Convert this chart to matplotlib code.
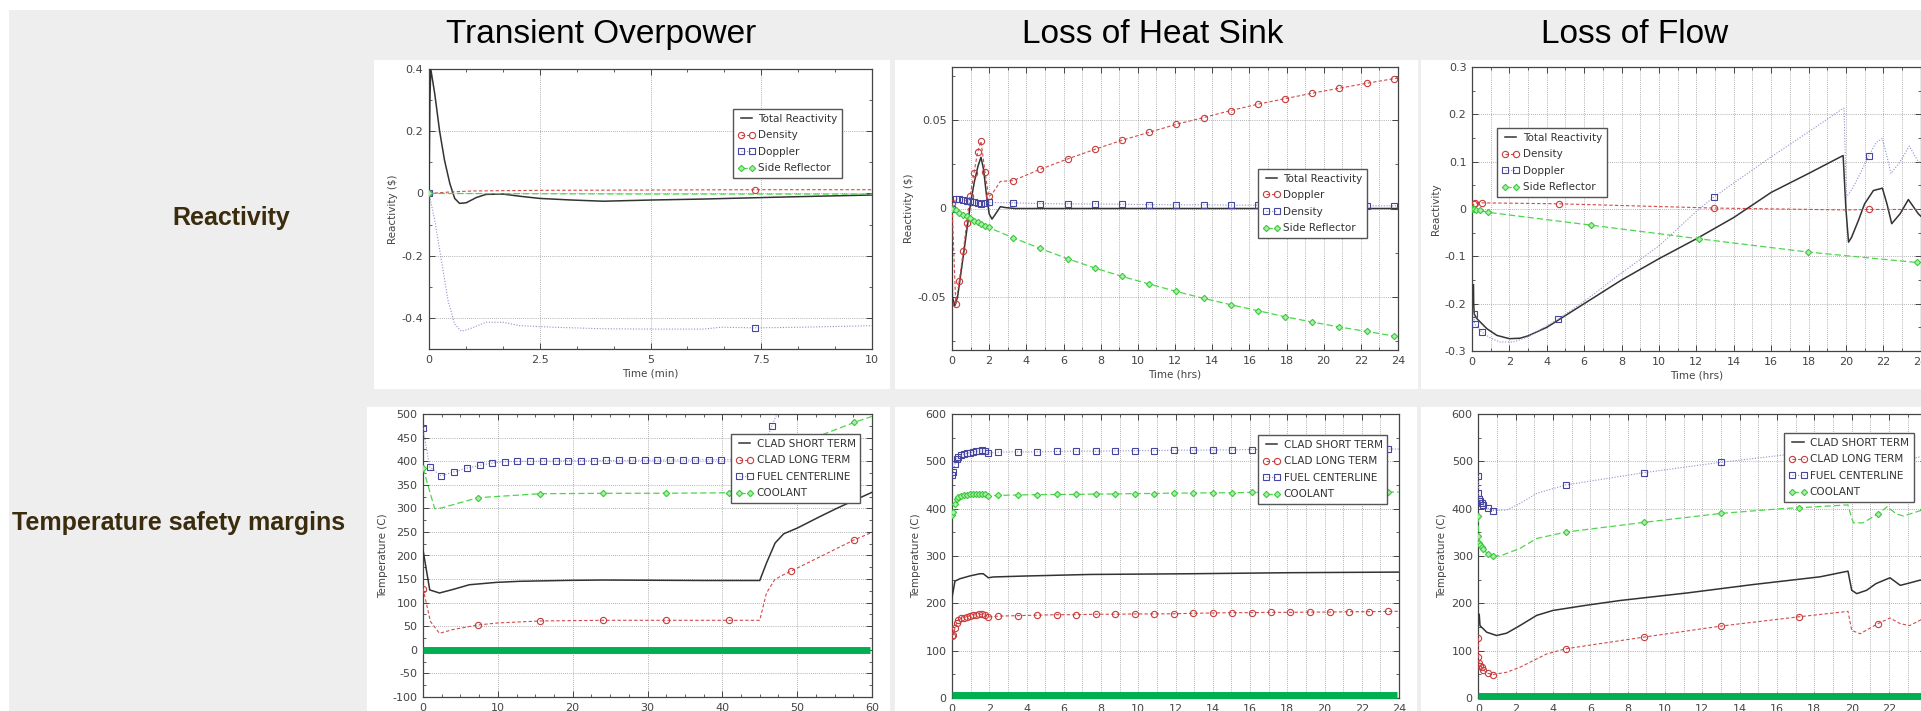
"""Safety transient summary slide: reactivity and temperature margins."""

import matplotlib

matplotlib.use("Agg")
import matplotlib.pyplot as plt
from matplotlib.lines import Line2D
from matplotlib.patches import Rectangle
from matplotlib.ticker import FuncFormatter, MultipleLocator

W, H = 1921, 711
plt.rcParams["font.family"] = ["DejaVu Sans"]
plt.rcParams["axes.unicode_minus"] = False

# ---------------------------------------------------------------- data
columns = ["Transient Overpower", "Loss of Heat Sink", "Loss of Flow"]
rows = ["Reactivity", "Temperature safety margins"]
limit_level = [0, 6, 5]  # green margin bar (C), one per column

# Transient overpower, reactivity ($) vs time (min)
top_total_t = [0, 0.02, 0.04, 0.13, 0.24, 0.35, 0.47, 0.58, 0.69, 0.84, 1.07, 1.29, 1.67,
               2.05, 2.5, 3.2, 3.93, 5.06, 6.19, 7.3, 8.44, 10]
top_total_v = [0, 0.30, 0.40, 0.32, 0.20, 0.107, 0.032, -0.016, -0.032, -0.03, -0.013, -0.003,
               -0.002, -0.009, -0.016, -0.021, -0.025, -0.021, -0.018, -0.014, -0.010, -0.005]
top_density_t = [0.5, 1, 2.5, 5, 10]
top_density_v = [0.005, 0.008, 0.010, 0.011, 0.012]
top_density_mt = [0, 7.37]
top_density_mv = [0, 0.012]
top_doppler_t = [0.13, 0.28, 0.43, 0.58, 0.73, 0.92, 1.29, 1.67, 2.05, 2.8, 3.93, 5.06, 6.19,
                 6.6, 8.44, 10]
top_doppler_v = [-0.086, -0.215, -0.344, -0.42, -0.443, -0.435, -0.414, -0.414, -0.425, -0.43,
                 -0.435, -0.436, -0.436, -0.43, -0.43, -0.425]
top_doppler_mt = [0, 7.37]
top_doppler_mv = [0, -0.432]
top_side_t = [2.5, 5, 7.37, 10]
top_side_v = [-0.001, -0.002, -0.002, -0.002]
top_side_mt = [0]
top_side_mv = [0]

# Loss of heat sink, reactivity ($) vs time (hrs)
lohs_total_t = [0, 0.02, 0.15, 0.3, 0.5, 0.8, 1.0, 1.2, 1.4, 1.56, 1.7, 1.85, 2.0, 2.15, 2.35,
                2.6, 2.9, 3.4, 24]
lohs_total_v = [-0.02, -0.05, -0.055, -0.05, -0.035, -0.012, 0.003, 0.015, 0.024, 0.029,
                0.022, 0.008, -0.003, -0.006, -0.003, 0.001, 0.0005, 0, 0]
lohs_mark_t = [0, 0.2, 0.39, 0.61, 0.79, 0.97, 1.18, 1.38, 1.56, 1.78, 1.97, 3.3, 4.75, 6.22,
               7.7, 9.15, 10.62, 12.07, 13.54, 15.0, 16.47, 17.92, 19.39, 20.84, 22.31, 23.78]
lohs_doppler_t = [2.15, 2.6, 24]
lohs_doppler_v = [0.008, 0.0153, 0.0738]
lohs_doppler_mv = [0.003, -0.054, -0.041, -0.024, -0.008, 0.007, 0.020, 0.032, 0.038, 0.0205,
                   0.0068, 0.0158, 0.0222, 0.028, 0.0335, 0.0386, 0.0431, 0.0476, 0.0514,
                   0.0554, 0.059, 0.0621, 0.0652, 0.068, 0.0708, 0.0734]
lohs_density_t = [24]
lohs_density_v = [0.0015]
lohs_density_mv = [0, 0.0053, 0.0055, 0.005, 0.0043, 0.004, 0.0034, 0.003, 0.0028, 0.003,
                   0.0034, 0.0032, 0.0028, 0.0026, 0.0026, 0.0024, 0.0022, 0.0021, 0.0021,
                   0.0019, 0.0019, 0.0017, 0.0016, 0.0016, 0.0015, 0.0015]
lohs_side_t = [24]
lohs_side_v = [-0.0725]
lohs_side_mv = [0, -0.0011, -0.0023, -0.0034, -0.0045, -0.0056, -0.0068, -0.0079, -0.0088,
                -0.0098, -0.0107, -0.0166, -0.0226, -0.0284, -0.0337, -0.0384, -0.0427,
                -0.0469, -0.0508, -0.0544, -0.0578, -0.0612, -0.0642, -0.067, -0.0695, -0.0721]

# Loss of flow, reactivity vs time (hrs)
lof_total_t = [0.08, 0.09, 0.12, 0.27, 0.8, 1.33, 2, 2.57, 3, 4, 5, 6, 8, 10, 12, 14, 16, 18,
               19.85, 20.0, 20.14, 20.3, 20.67, 21.0, 21.47, 21.95, 22.2, 22.45, 22.9, 23.34,
               23.87, 24]
lof_total_v = [-0.16, -0.2, -0.222, -0.232, -0.253, -0.267, -0.274, -0.273, -0.268, -0.25,
               -0.225, -0.2, -0.15, -0.105, -0.063, -0.018, 0.035, 0.075, 0.113, 0.0, -0.07,
               -0.06, -0.024, 0.011, 0.039, 0.044, 0.01, -0.031, -0.01, 0.02, -0.01, -0.015]
lof_doppler_t = [1.0, 1.5, 2.2, 3.0, 6, 8, 10, 12, 14, 16, 18, 19.75, 19.9, 20.02, 20.3, 20.7,
                 21.6, 21.95, 22.2, 22.41, 22.9, 23.39, 23.87, 24]
lof_doppler_v = [-0.273, -0.281, -0.281, -0.27, -0.195, -0.135, -0.078, -0.005, 0.055, 0.11,
                 0.163, 0.21, 0.213, 0.025, 0.04, 0.07, 0.14, 0.149, 0.11, 0.075, 0.1, 0.133,
                 0.1, 0.098]
lof_doppler_mt = [0.09, 0.14, 0.53, 4.6, 12.93, 21.24]
lof_doppler_mv = [-0.221, -0.243, -0.26, -0.233, 0.025, 0.113]
lof_density_t = [0.02, 20.0, 24]
lof_density_v = [0.005, -0.002, -0.001]
lof_density_mt = [0.09, 0.18, 0.53, 4.65, 12.94, 21.24]
lof_density_mv = [0.01, 0.013, 0.013, 0.011, 0.002, -0.001]
lof_side_t = [24]
lof_side_v = [-0.113]
lof_side_mt = [0, 0.05, 0.12, 0.2, 0.44, 0.85, 6.34, 12.16, 17.98, 23.8]
lof_side_mv = [0, -0.0005, -0.001, -0.002, -0.003, -0.007, -0.034, -0.063, -0.091, -0.113]

# Transient overpower, temperature margin (C) vs time (min)
topT_short_t = [0, 0.9, 2.2, 4, 6.2, 9.8, 12.9, 19.6, 24.1, 37.5, 45, 45.9, 47.05, 48.2, 50,
                53.1, 55.3, 57.5, 60]
topT_short_v = [212, 127, 120.5, 128, 138, 143, 145.3, 147.3, 148, 147, 147, 184, 226.5, 246,
                258, 283, 300, 316, 334]
topT_mark_t = [0, 7.36, 15.7, 24.1, 32.5, 40.9, 49.2, 57.6]
topT_long_t = [1, 2.2, 4, 10, 45, 45.9, 47, 48.2, 60]
topT_long_v = [60, 35, 43, 57, 62.6, 120.5, 149, 159.4, 249]
topT_long_mv = [130, 52.7, 61.2, 62.6, 62.6, 62.6, 167, 233]
topT_fuel_t = [47.3, 48.3, 60]
topT_fuel_v = [500, 540, 640]
topT_fuel_mt = [0, 0.9, 2.4, 4.1, 5.84, 7.6, 9.2, 10.9, 12.6, 14.3, 16.0, 17.8, 19.4, 21.1,
                22.8, 24.5, 26.2, 27.9, 29.6, 31.3, 33.0, 34.7, 36.4, 38.2, 39.8, 41.5, 43.2,
                44.9, 46.6]
topT_fuel_mv = [470, 387.6, 369, 377, 385, 391, 396, 399, 399.6, 400, 400, 400.5, 401, 401,
                401, 401.5, 401.5, 402, 402, 402, 402.5, 402.5, 402.5, 403, 403, 403, 403, 404,
                474]
topT_cool_t = [1.56, 2.45, 45, 46, 47.5, 54, 60]
topT_cool_v = [299.3, 300.7, 333, 370, 410, 460, 495]
topT_cool_mv = [385.5, 322.6, 331, 331.8, 332, 333, 430, 482]

# Loss of heat sink, temperature margin (C) vs time (hrs)
lohsT_short_t = [0, 0.16, 0.43, 0.97, 1.5, 1.68, 1.95, 2.22, 3.83, 7.4, 12.8, 18.1, 24]
lohsT_short_v = [212, 247, 252, 258, 262.5, 262.5, 254, 255.7, 257.6, 261, 262.5, 264.7, 266]
lohsT_mark_t = [0, 0.07, 0.16, 0.25, 0.34, 0.5, 0.66, 0.82, 0.98, 1.14, 1.3, 1.46, 1.62, 1.78,
                1.92, 2.49, 3.53, 4.58, 5.62, 6.66, 7.71, 8.75, 9.83, 10.86, 11.9, 12.96, 14.0,
                15.03, 16.09, 17.13, 18.17, 19.22, 20.28, 21.32, 22.37, 23.41]
lohsT_long_mv = [130.6, 134, 148, 159, 164.7, 168, 170, 172, 173.5, 175, 176, 176.5, 177, 175.5,
                 171, 173, 174, 175, 176, 176, 177, 177, 177.6, 177.6, 178, 179, 179.6, 180.3,
                 180.3, 181, 181, 181.6, 181.6, 182.3, 182.3, 183]
lohsT_fuel_mv = [470.7, 478, 494, 504.7, 510, 513, 515, 517, 518.5, 520, 521, 521.6, 523, 522,
                 517, 519.5, 520, 520, 521, 521.5, 521.5, 522, 522.5, 522.5, 523.5, 523.5, 524,
                 524, 525, 525, 525.5, 525.5, 526, 526, 526, 526]
lohsT_cool_mv = [386, 393, 409, 420, 425, 427, 428, 429, 430, 430.6, 431, 432, 432, 430, 427,
                 428, 429, 429.6, 430, 430, 431, 431, 432, 432, 433, 433, 433.6, 433.6, 434.4,
                 434.4, 434.6, 434.6, 435, 435, 435, 435]
lohsT_end_t = [24]
lohsT_long_end = [183]
lohsT_fuel_end = [526]
lohsT_cool_end = [435]

# Loss of flow, temperature margin (C) vs time (hrs)
lofT_short_t = [0.05, 0.09, 0.45, 0.98, 1.52, 2.23, 3.13, 4.0, 5.8, 7.6, 11.2, 14.7, 18.3, 19.8,
                20.0, 20.27, 20.8, 21.3, 22.05, 22.6, 23.1, 23.66, 24]
lofT_short_v = [176.7, 153, 139, 132, 137, 153, 174.6, 185, 196, 206, 222, 239.6, 256, 268,
                227.6, 220.5, 227.6, 241.7, 254, 238, 243, 249, 247]
lofT_mark_t = [0, 0.01, 0.04, 0.09, 0.18, 0.27, 0.5, 0.77, 4.68, 8.86, 13.0, 17.2, 21.4]
lofT_long_t = [1.52, 2.23, 3.13, 3.66, 19.8, 20.0, 20.45, 22.05, 22.6, 23.1, 23.7, 24]
lofT_long_v = [54.4, 65, 82.7, 93, 183, 142.8, 135.7, 169, 157, 153, 165, 165]
lofT_long_mv = [127, 87.6, 73.5, 67.8, 65, 59.4, 52.3, 49.5, 104, 128.6, 152, 171.7, 157]
lofT_fuel_t = [1.52, 2.23, 3.13, 16.5, 19.8, 20.1, 21.0, 22.0, 22.6, 23.7, 24]
lofT_fuel_v = [397, 411, 432.5, 514, 530, 485, 495, 515, 500, 510, 510]
lofT_fuel_mv = [469, 434, 420, 416, 413, 408, 401, 396, 450, 476, 498, 518, 505]
lofT_cool_t = [1.16, 2.23, 3.13, 16.5, 19.8, 20.0, 20.1, 20.6, 21.9, 22.4, 22.77, 23.66, 24]
lofT_cool_v = [300, 316, 337, 400.7, 408, 379.5, 370, 370, 404, 388.7, 384.5, 395.7, 397]
lofT_cool_mv = [384.5, 342, 326.5, 323, 319.4, 313.8, 305, 301, 350.5, 371, 390, 402, 388.7]

# ---------------------------------------------------------------- styles
STYLE = {
    "black": dict(color="#333333", ls="-", lw=1.1, marker="None"),
    "red": dict(color="#d24a4a", ls=(0, (3, 2)), lw=0.8, marker="o",
                mfc="none", mec="#c83c3c", ms=4.5, mew=0.8),
    "blue": dict(color="#9090cc", ls=(0, (1, 1.5)), lw=0.8, marker="s",
                 mfc="none", mec="#4646a0", ms=4, mew=0.8),
    "green": dict(color="#4cd64c", ls=(0, (5, 2.5)), lw=0.9, marker="D",
                  mfc="#a8f0a8", mec="#3cc83c", ms=3.2, mew=0.8),
}
GREEN_BAR = "#00b050"
GREY_BG = "#eeeeee"
TEXT_GREY = "#444444"
fmt = FuncFormatter(lambda v, _: f"{v:g}")


def draw(ax, key, label, t=(), v=(), mt=(), mv=()):
    st = STYLE[key]
    pts = sorted(list(zip(t, v)) + list(zip(mt, mv)), key=lambda p: p[0])
    xs = [p[0] for p in pts]
    ys = [p[1] for p in pts]
    ax.plot(xs, ys, color=st["color"], ls=st["ls"], lw=st["lw"], zorder=3)
    if len(mt):
        ax.plot(mt, mv, ls="None", marker=st["marker"], mfc=st["mfc"], mec=st["mec"],
                ms=st["ms"], mew=st["mew"], zorder=4)
    extra = {k: st[k] for k in ("mfc", "mec", "ms", "mew") if k in st}
    return Line2D([], [], color=st["color"], ls=st["ls"], lw=st["lw"],
                  marker=st["marker"], label=label, **extra)


def style_axes(ax, xlim, ylim, xmaj, xmin, ymaj, ymin, xlabel, ylabel, xgrid_minor=False):
    ax.set_xlim(*xlim)
    ax.set_ylim(*ylim)
    ax.xaxis.set_major_locator(MultipleLocator(xmaj))
    ax.xaxis.set_minor_locator(MultipleLocator(xmin))
    ax.yaxis.set_major_locator(MultipleLocator(ymaj))
    ax.yaxis.set_minor_locator(MultipleLocator(ymin))
    ax.xaxis.set_major_formatter(fmt)
    ax.yaxis.set_major_formatter(fmt)
    ax.tick_params(which="both", direction="in", top=True, right=True,
                   colors="#444444", labelcolor=TEXT_GREY, labelsize=8, pad=4)
    ax.tick_params(which="major", length=4, width=0.7)
    ax.tick_params(which="minor", length=2, width=0.6)
    grid = dict(color="#999999", ls=(0, (1, 1.5)), lw=0.6)
    ax.grid(True, which="major", **grid)
    if xgrid_minor:
        ax.grid(True, which="minor", axis="x", **grid)
    ax.set_axisbelow(True)
    for s in ax.spines.values():
        s.set_color("#444444")
        s.set_linewidth(0.9)
    ax.set_xlabel(xlabel, fontsize=7.5, color=TEXT_GREY, labelpad=3)
    ax.set_ylabel(ylabel, fontsize=7.5, color=TEXT_GREY, labelpad=3)


def legend(ax, handles, anchor):
    lg = ax.legend(handles=handles, loc="upper left", bbox_to_anchor=anchor,
                   borderaxespad=0, fontsize=7.5, numpoints=2, handlelength=1.7,
                   handletextpad=0.3, labelspacing=0.63, borderpad=0.45,
                   fancybox=False, framealpha=1, edgecolor="#555555")
    lg.get_frame().set_linewidth(1.0)
    for txt in lg.get_texts():
        txt.set_color("#333333")
    lg.set_zorder(10)


def axes_px(x0, y0, x1, y1):
    return [x0 / W, 1 - y1 / H, (x1 - x0) / W, (y1 - y0) / H]


def box_px(fig, x0, y0, x1, y1, color="white"):
    fig.patches.append(Rectangle((x0 / W, 1 - y1 / H), (x1 - x0) / W, (y1 - y0) / H,
                                 transform=fig.transFigure, facecolor=color,
                                 edgecolor="none", zorder=-5))


fig = plt.figure(figsize=(W / 100, H / 100), dpi=100, facecolor=GREY_BG)
box_px(fig, 0, 0, W, 10)
box_px(fig, 0, 0, 9, H)
for x0, x1 in [(374, 890), (895, 1418), (1421, W)]:
    box_px(fig, x0, 60, x1, 389)
for x0, x1 in [(367, 890), (895, 1417), (1421, W)]:
    box_px(fig, x0, 407, x1, H)

title_font = dict(family=["Liberation Sans", "DejaVu Sans"], fontsize=24,
                  color="black", ha="center", va="baseline")
for name, xc in zip(columns, [601, 1153, 1635]):
    fig.text(xc / W, 1 - 43 / H, name, **title_font)
row_font = dict(family=["Liberation Sans", "DejaVu Sans"], fontsize=18, fontweight="bold",
                color="#3b2c0e", ha="center", va="center")
fig.text(231 / W, 1 - 218 / H, rows[0], **row_font)
fig.text(179 / W, 1 - 523 / H, rows[1], **row_font)

# ---------------------------------------------------------------- top row
ax1 = fig.add_axes(axes_px(429, 69, 872, 349))
h = [draw(ax1, "black", "Total Reactivity", top_total_t, top_total_v),
     draw(ax1, "red", "Density", top_density_t, top_density_v, top_density_mt, top_density_mv),
     draw(ax1, "blue", "Doppler", top_doppler_t, top_doppler_v, top_doppler_mt, top_doppler_mv),
     draw(ax1, "green", "Side Reflector", top_side_t, top_side_v, top_side_mt, top_side_mv)]
style_axes(ax1, (0, 10), (-0.5, 0.4), 2.5, 2.5 / 3, 0.2, 0.1, "Time (min)", "Reactivity ($)")
legend(ax1, h, (0.686, 0.857))

ax2 = fig.add_axes(axes_px(952, 67, 1398, 350))
h = [draw(ax2, "black", "Total Reactivity", lohs_total_t, lohs_total_v),
     draw(ax2, "red", "Doppler", lohs_doppler_t, lohs_doppler_v, lohs_mark_t, lohs_doppler_mv),
     draw(ax2, "blue", "Density", lohs_density_t, lohs_density_v, lohs_mark_t, lohs_density_mv),
     draw(ax2, "green", "Side Reflector", lohs_side_t, lohs_side_v, lohs_mark_t, lohs_side_mv)]
style_axes(ax2, (0, 24), (-0.08, 0.08), 2, 1, 0.05, 0.025, "Time (hrs)", "Reactivity ($)",
           xgrid_minor=True)
legend(ax2, h, (0.686, 0.64))

ax3 = fig.add_axes(axes_px(1472, 67, 1920.7, 351))
h = [draw(ax3, "black", "Total Reactivity", lof_total_t, lof_total_v),
     draw(ax3, "red", "Density", lof_density_t, lof_density_v, lof_density_mt, lof_density_mv),
     draw(ax3, "blue", "Doppler", lof_doppler_t, lof_doppler_v, lof_doppler_mt, lof_doppler_mv),
     draw(ax3, "green", "Side Reflector", lof_side_t, lof_side_v, lof_side_mt, lof_side_mv)]
style_axes(ax3, (0, 24), (-0.3, 0.3), 2, 1, 0.1, 0.05, "Time (hrs)", "Reactivity",
           xgrid_minor=True)
legend(ax3, h, (0.056, 0.785))

# ---------------------------------------------------------------- bottom row
temp_labels = ["CLAD SHORT TERM", "CLAD LONG TERM", "FUEL CENTERLINE", "COOLANT"]

ax4 = fig.add_axes(axes_px(423, 414, 872, 697))
h = [draw(ax4, "black", temp_labels[0], topT_short_t, topT_short_v),
     draw(ax4, "red", temp_labels[1], topT_long_t, topT_long_v, topT_mark_t, topT_long_mv),
     draw(ax4, "blue", temp_labels[2], topT_fuel_t, topT_fuel_v, topT_fuel_mt, topT_fuel_mv),
     draw(ax4, "green", temp_labels[3], topT_cool_t, topT_cool_v, topT_mark_t, topT_cool_mv)]
style_axes(ax4, (0, 60), (-100, 500), 10, 2.5, 50, 25, "Time (min)", "Temperature (C)")
legend(ax4, h, (0.686, 0.929))

ax5 = fig.add_axes(axes_px(952, 414, 1399, 698))
h = [draw(ax5, "black", temp_labels[0], lohsT_short_t, lohsT_short_v),
     draw(ax5, "red", temp_labels[1], lohsT_end_t, lohsT_long_end, lohsT_mark_t, lohsT_long_mv),
     draw(ax5, "blue", temp_labels[2], lohsT_end_t, lohsT_fuel_end, lohsT_mark_t, lohsT_fuel_mv),
     draw(ax5, "green", temp_labels[3], lohsT_end_t, lohsT_cool_end, lohsT_mark_t, lohsT_cool_mv)]
style_axes(ax5, (0, 24), (0, 600), 2, 1, 100, 50, "Time (hrs)", "Temperature (C)",
           xgrid_minor=True)
legend(ax5, h, (0.685, 0.926))

ax6 = fig.add_axes(axes_px(1478.3, 414, 1926.4, 698))
h = [draw(ax6, "black", temp_labels[0], lofT_short_t, lofT_short_v),
     draw(ax6, "red", temp_labels[1], lofT_long_t, lofT_long_v, lofT_mark_t, lofT_long_mv),
     draw(ax6, "blue", temp_labels[2], lofT_fuel_t, lofT_fuel_v, lofT_mark_t, lofT_fuel_mv),
     draw(ax6, "green", temp_labels[3], lofT_cool_t, lofT_cool_v, lofT_mark_t, lofT_cool_mv)]
style_axes(ax6, (0, 24), (0, 600), 2, 1, 100, 50, "Time (hrs)", "Temperature (C)",
           xgrid_minor=True)
legend(ax6, h, (0.683, 0.933))

# green margin bars drawn over the temperature plots
for ax, lvl in zip([ax4, ax5, ax6], limit_level):
    ax.axhline(lvl, xmin=0.0, xmax=0.995, color=GREEN_BAR, lw=5, solid_capstyle="butt",
               clip_on=False, zorder=6)

fig.savefig("out.png", dpi=100, facecolor=fig.get_facecolor())
